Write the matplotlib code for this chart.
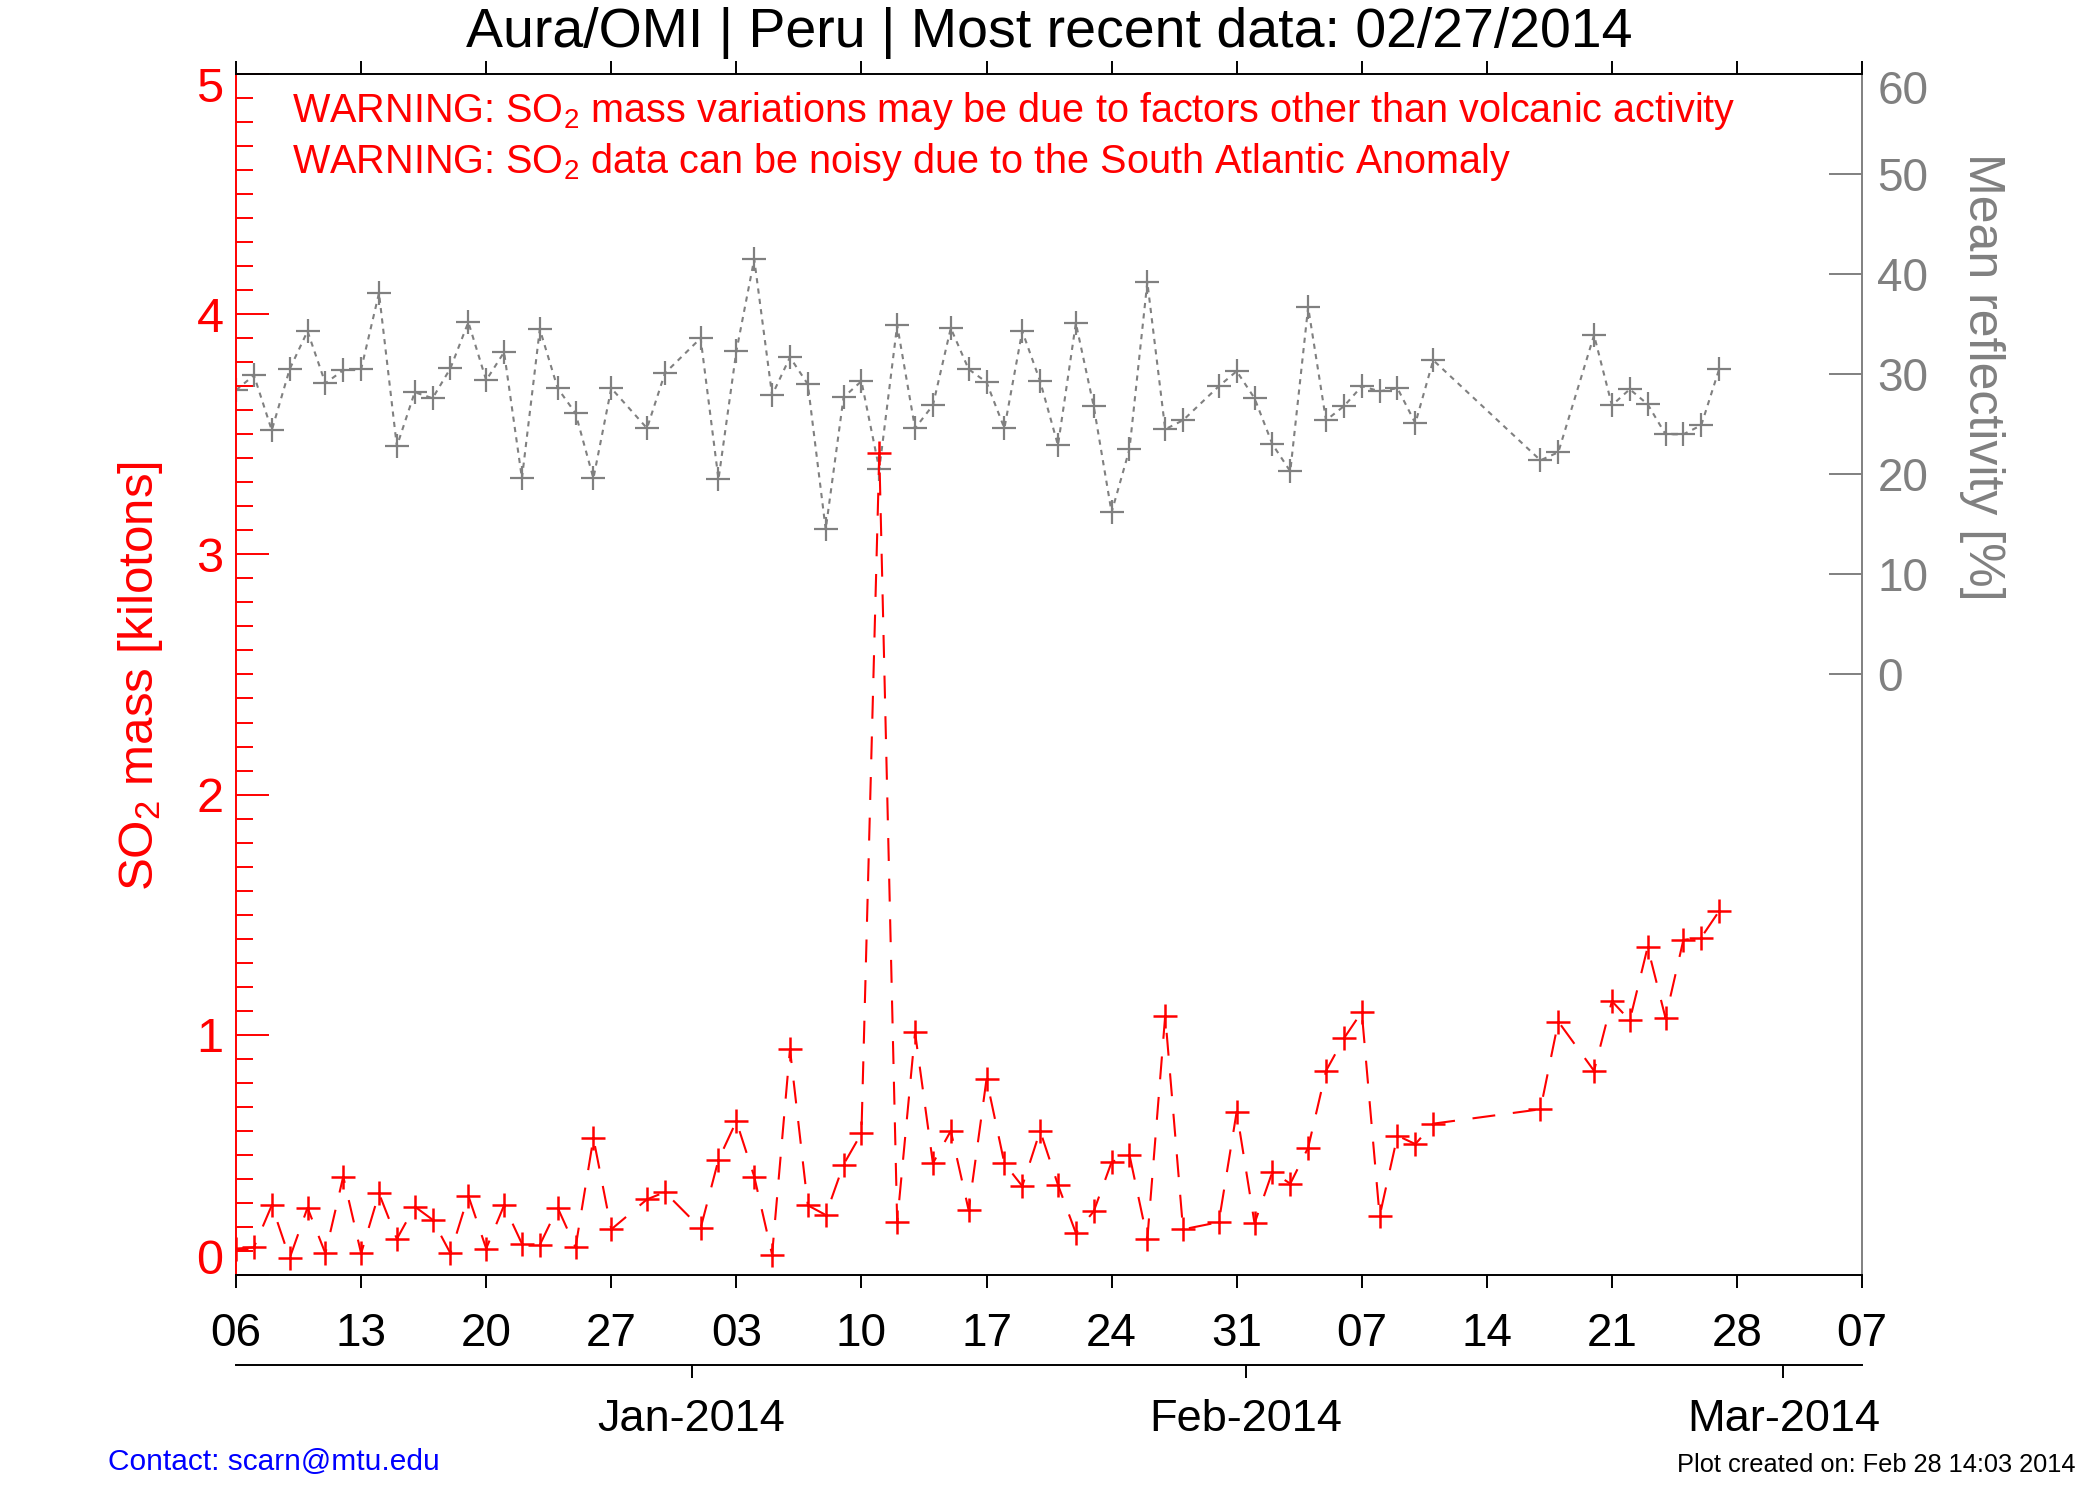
import numpy as np
import pandas as pd
import matplotlib
matplotlib.use("Agg")
import matplotlib.pyplot as plt
import matplotlib.dates as mdates
from matplotlib.ticker import FixedLocator, MultipleLocator
from matplotlib.transforms import ScaledTranslation

plt.rcParams['font.family'] = ['Liberation Sans', 'DejaVu Sans']
plt.rcParams['mathtext.default'] = 'regular'

RED = "#ff0000"
GRAY = "#808080"

# observation days (same for both series)
dec_days = list(range(6, 28)) + [29, 30]
jan_days = list(range(1, 29)) + [30, 31]
feb_days = list(range(1, 12)) + [17, 18] + list(range(20, 28))

dates = ([pd.Timestamp(2013, 12, d) for d in dec_days]
         + [pd.Timestamp(2014, 1, d) for d in jan_days]
         + [pd.Timestamp(2014, 2, d) for d in feb_days])

# SO2 mass [kilotons]
so2_mass = [
    0.11, 0.115, 0.29, 0.07, 0.28, 0.09, 0.41, 0.09, 0.34, 0.15, 0.285,
    0.23, 0.09, 0.33, 0.11, 0.29, 0.13, 0.125, 0.28, 0.115, 0.57, 0.19,
    0.315, 0.345,
    0.195, 0.48, 0.64, 0.41, 0.085, 0.94, 0.29, 0.25, 0.46, 0.59, 3.42,
    0.22, 1.01, 0.465, 0.60, 0.27, 0.815, 0.465, 0.37, 0.60, 0.375, 0.175,
    0.265, 0.47, 0.50, 0.15, 1.08, 0.19,
    0.22, 0.68,
    0.215, 0.43, 0.38, 0.53, 0.85, 0.985, 1.095, 0.245, 0.58, 0.545, 0.63,
    0.69, 1.055,
    0.85, 1.14, 1.06, 1.365, 1.07, 1.395, 1.405, 1.515,
]

# mean reflectivity [%]
reflectivity = [
    28.4, 29.9, 24.4, 30.5, 34.3, 29.1, 30.4, 30.5, 38.1, 22.8, 28.2,
    27.6, 30.6, 35.2, 29.4, 32.2, 19.6, 34.5, 28.6, 26.1, 19.6, 28.6,
    24.6, 30.1,
    33.6, 19.5, 32.3, 41.5, 27.9, 31.7, 29.0, 14.5, 27.7, 29.3, 20.5,
    34.9, 24.6, 26.9, 34.6, 30.5, 29.2, 24.6, 34.3, 29.3, 22.9, 35.1,
    26.8, 16.2, 22.5, 39.2, 24.5, 25.4,
    28.8, 30.3,
    27.6, 23.0, 20.3, 36.7, 25.4, 26.8, 28.8, 28.3, 28.6, 25.1, 31.4,
    21.4, 22.2,
    33.9, 26.9, 28.5, 27.0, 24.0, 24.0, 24.9, 30.5,
]

x_start = pd.Timestamp("2013-12-06")
x_end = pd.Timestamp("2014-03-07")
week_ticks = pd.date_range(x_start, x_end, freq="7D")

month_labels = ["Jan-2014", "Feb-2014", "Mar-2014"]
month_tick_days = [25.5, 56.5, 86.6]   # days after x_start

fig = plt.figure(figsize=(21, 15), dpi=100)
ax1 = fig.add_axes([0.1124, 0.15, 0.7743, 0.8007])
ax2 = ax1.twinx()
ax1.set_zorder(ax2.get_zorder() + 1)
ax1.patch.set_visible(False)

ax2.plot(dates, reflectivity, color=GRAY, ls=(0, (2.5, 2.5)), lw=1.5,
         marker="+", ms=17, mew=1.6)
ax1.plot(dates, so2_mass, color=RED, ls=(0, (11, 8.5)), lw=1.5,
         marker="+", ms=17, mew=1.8)

ax1.set_xlim(x_start, x_end)
ax1.set_ylim(0, 5)
ax2.set_ylim(-60, 60)

# x axis
ax1.xaxis.set_major_locator(FixedLocator(mdates.date2num(week_ticks)))
ax1.xaxis.set_major_formatter(mdates.DateFormatter("%d"))
ax1.tick_params(axis="x", which="major", direction="out", top=True,
                length=9.4, width=1.4, pad=17, labelsize=33, colors="black")

# left axis
ax1.set_yticks(range(0, 6))
ax1.yaxis.set_minor_locator(MultipleLocator(0.1))
ax1.tick_params(axis="y", which="major", direction="in", right=False,
                length=23.5, width=1.4, pad=9, labelsize=35, colors=RED)
ax1.tick_params(axis="y", which="minor", direction="in", right=False,
                length=12, width=1.4, colors=RED)

# right axis
ax2.set_yticks(range(0, 61, 10))
ax2.tick_params(axis="y", direction="in", length=23.5, width=1.4,
                pad=11, labelsize=33, colors=GRAY)

for name in ["top", "bottom"]:
    ax1.spines[name].set_color("black")
    ax1.spines[name].set_linewidth(1.4)
    ax2.spines[name].set_visible(False)
ax1.spines["left"].set_color(RED)
ax1.spines["left"].set_linewidth(1.4)
ax1.spines["right"].set_visible(False)
ax2.spines["left"].set_visible(False)
ax2.spines["right"].set_color(GRAY)
ax2.spines["right"].set_linewidth(1.4)

# end labels sit inside the frame, like the original
def nudge(tick, dy):
    lab = tick.label1 if tick.label1.get_visible() else tick.label2
    lab.set_transform(lab.get_transform() + ScaledTranslation(0, dy, fig.dpi_scale_trans))

left_ticks = ax1.yaxis.get_major_ticks()
nudge(left_ticks[0], 0.19)
nudge(left_ticks[-1], -0.11)
right_ticks = ax2.yaxis.get_major_ticks()
nudge(right_ticks[-1], -0.13)

# month axis below
secax = ax1.secondary_xaxis(-0.075)
month_pos = [mdates.date2num(x_start) + d for d in month_tick_days]
secax.set_xticks(month_pos, labels=month_labels)
secax.tick_params(direction="out", length=9.4, width=1.4, pad=15,
                  labelsize=32.5, colors="black")
secax.spines["bottom"].set_linewidth(1.4)

# texts
fig.text(0.4995, 0.978, "Aura/OMI | Peru | Most recent data: 02/27/2014",
         ha="center", va="center", fontsize=40, color="black")
fig.text(0.139, 0.926,
         "WARNING: SO$_2$ mass variations may be due to factors other than volcanic activity",
         ha="left", va="center", fontsize=28.5, color=RED)
fig.text(0.139, 0.892,
         "WARNING: SO$_2$ data can be noisy due to the South Atlantic Anomaly",
         ha="left", va="center", fontsize=28.5, color=RED)
fig.text(0.067, 0.549, "SO$_2$ mass [kilotons]", rotation=90,
         ha="center", va="center", fontsize=35.5, color=RED)
fig.text(0.9438, 0.749, "Mean reflectivity [%]", rotation=270,
         ha="center", va="center", fontsize=36, color=GRAY)
fig.text(0.0514, 0.025, "Contact: scarn@mtu.edu", ha="left", va="center",
         fontsize=21.5, color="blue")
fig.text(0.9885, 0.023, "Plot created on: Feb 28 14:03 2014", ha="right",
         va="center", fontsize=18.3, color="black")

fig.savefig("out.png", dpi=100, facecolor="white")
